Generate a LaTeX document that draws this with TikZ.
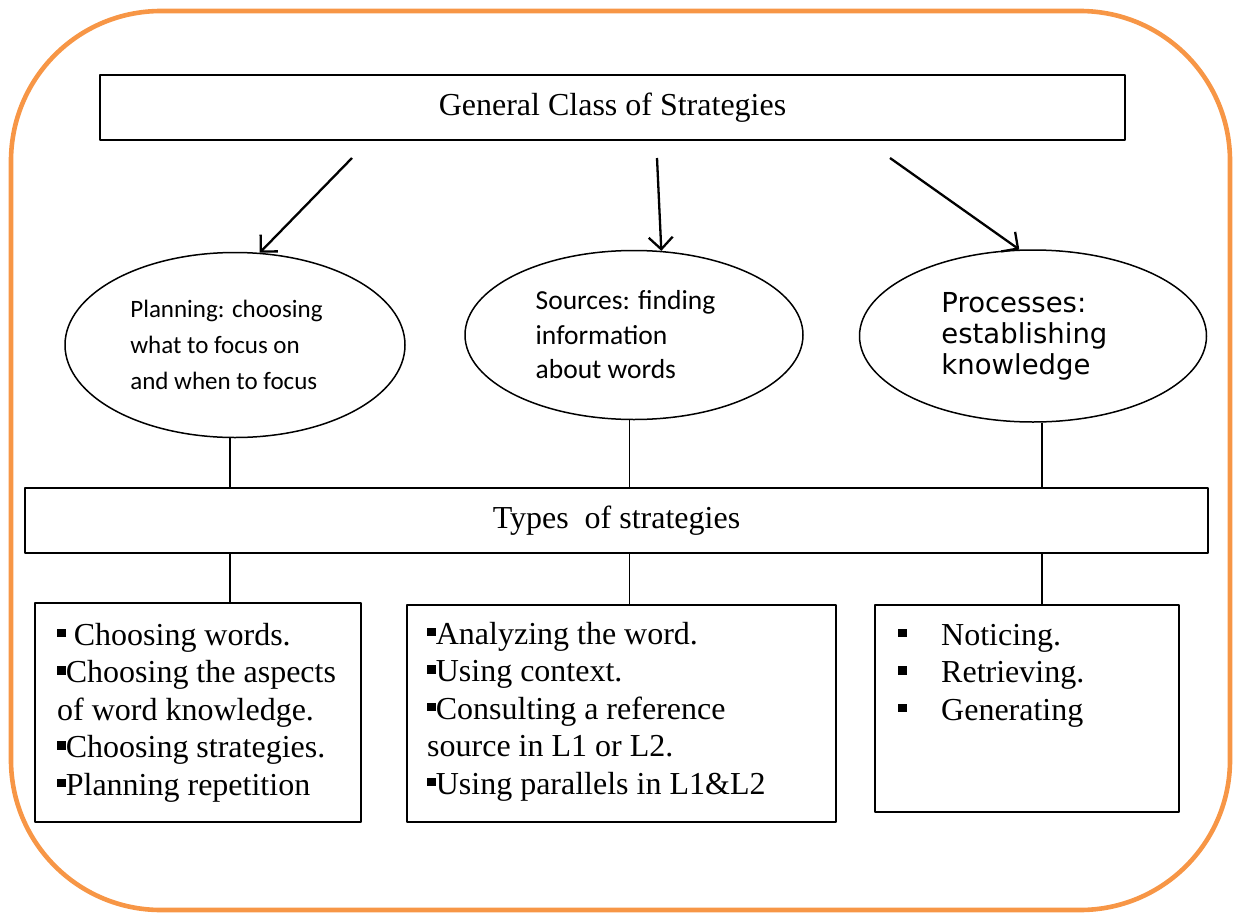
\documentclass[tikz,border=0pt]{standalone}
\usepackage{fontspec}
\setmainfont{Liberation Serif}
\newfontfamily\calfont{Carlito}
\newfontfamily\verfont{DejaVu Sans}
\usetikzlibrary{shapes.geometric,arrows.meta}
\definecolor{frameorange}{RGB}{247,150,70}
\newcommand{\sqb}{\rule[0.24em]{0.27em}{0.27em}}
\newcommand{\pad}{\hspace*{17pt}}
\begin{document}
\begin{tikzpicture}[x=1pt,y=-1pt,line join=round,>={Straight Barb[length=12pt,width=24pt]},
 box/.style={draw,line width=1.5pt,inner sep=0},
 oval/.style={draw,ellipse,line width=1.5pt,inner sep=0,align=left},
 tnr/.style={font=\fontsize{32}{37.5}\selectfont},
 list/.style={tnr,anchor=base west,align=left,inner sep=0}]
 \useasboundingbox (0,0) rectangle (1235,913);
 \draw[line width=4.6pt,frameorange,rounded corners=150pt] (11,11) rectangle (1230,910);
 % top and middle bars
 \node[box,tnr,minimum width=1025pt,minimum height=65pt] (gen) at (612.5,107.5) {General Class of Strategies};
 \node[box,tnr,minimum width=1183pt,minimum height=65pt] (types) at (616.5,520.5) {Types\ \ of strategies};
 % the three classes
 \node[oval,minimum width=340pt,minimum height=185pt,font=\calfont\fontsize{25}{36}\selectfont] (plan) at (235,345)
  {Planning: choosing\pad\\what to focus on\pad\\and when to focus\pad};
 \node[oval,minimum width=338pt,minimum height=169pt,font=\calfont\fontsize{27.5}{34.5}\selectfont] (src) at (634,335)
  {Sources: finding\pad\\information\pad\\about words\pad};
 \node[oval,minimum width=347pt,minimum height=172pt,font=\verfont\fontsize{27.5}{31}\selectfont] (proc) at (1033,336)
  {Processes:\pad\pad\\establishing\pad\pad\\knowledge\pad\pad};
 \coordinate (a1) at (352,158);
 \coordinate (a2) at (657,158);
 \coordinate (a3) at (890,158);
 \draw[->,line width=2.3pt] (a1) -- (plan.75);
 \draw[->,line width=2.3pt] (a2) -- (src.72);
 \draw[->,line width=2.3pt] (a3) -- (proc.99);
 % strategy boxes
 \node[box,minimum width=326pt,minimum height=219pt] (boxL) at (198,712.5) {};
 \node[box,minimum width=429pt,minimum height=217pt] (boxM) at (621.5,713.5) {};
 \node[box,minimum width=304pt,minimum height=207pt] (boxR) at (1027,708.5) {};
 \node[list] (txtL) at (57,795) {\sqb\ Choosing words.\\\sqb Choosing the aspects\\of word knowledge.\\\sqb Choosing strategies.\\\sqb Planning repetition};
 \node[list] (txtM) at (427,794) {\sqb Analyzing the word.\\\sqb Using context.\\\sqb Consulting a reference\\source in L1 or L2.\\\sqb Using parallels in L1\&L2};
 \node[list] (txtR) at (898,720) {\makebox[43pt][l]{\sqb}Noticing.\\\makebox[43pt][l]{\sqb}Retrieving.\\\makebox[43pt][l]{\sqb}Generating};
 % plain links
 \draw[line width=1.5pt] (plan.267) -- (plan.267 |- types.north) (plan.267 |- types.south) -- (plan.267 |- boxL.north);
 \draw[line width=1.5pt] (src.267) -- (src.267 |- types.north) (src.267 |- types.south) -- (src.267 |- boxM.north);
 \draw[line width=1.5pt] (proc.276) -- (proc.276 |- types.north) (proc.276 |- types.south) -- (proc.276 |- boxR.north);
\end{tikzpicture}
\end{document}
